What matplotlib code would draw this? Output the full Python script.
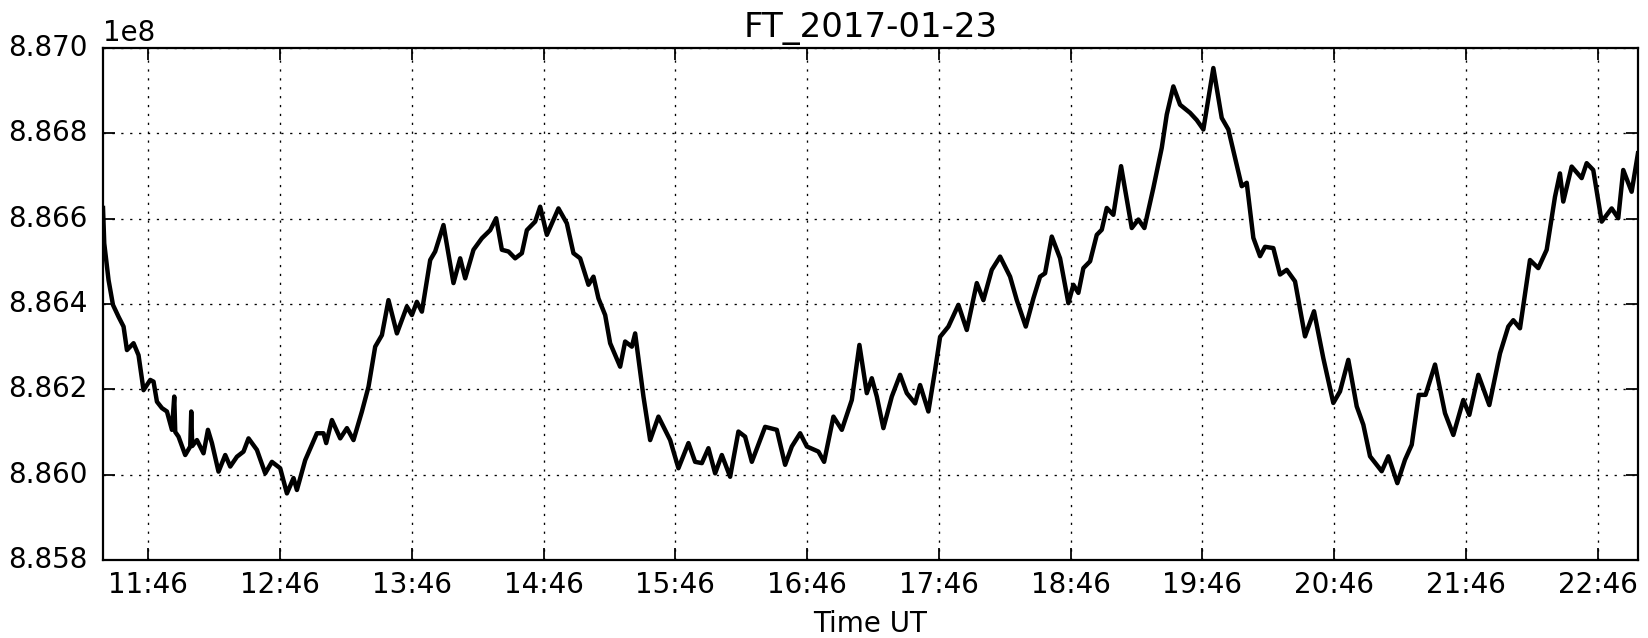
import matplotlib
matplotlib.use("Agg")
import matplotlib.pyplot as plt
from matplotlib.ticker import FixedLocator, FuncFormatter, ScalarFormatter

# time in minutes after midnight (UT), value in units of 1e8
minutes = [685.4, 685.97, 687.93, 689.93, 692.48, 694.76, 696.30, 699.31, 701.58, 703.86,
           706.91, 708.41, 709.96, 712.24, 714.51, 716.79, 717.84, 718.3, 719.79, 722.84,
           725.12, 725.58, 726.03, 728.17, 731.17, 733.18, 735.0, 738.0, 741.05, 743.33,
           746.38, 749.38, 751.66, 755.48, 759.26, 762.31, 766.09, 769.14, 772.15, 773.69,
           777.47, 782.80, 785.8, 787.03, 789.63, 793.41, 796.46, 799.46, 803.29, 806.29,
           809.34, 812.39, 815.39, 819.22, 823.77, 826.05, 828.32, 830.6, 834.38, 836.65,
           840.43, 844.98, 848.03, 850.31, 854.09, 857.91, 861.69, 864.42, 867.02, 870.02,
           873.07, 876.12, 878.40, 882.18, 884.45, 887.50, 892.78, 896.6, 899.61, 902.66,
           906.44, 908.72, 911.0, 914.05, 916.32, 920.87, 923.15, 926.2, 927.70, 931.48,
           934.53, 938.31, 943.64, 947.41, 951.97, 955.0, 958.07, 961.07, 964.12, 967.17,
           970.95, 974.72, 977.77, 980.83, 986.88, 992.21, 995.99, 999.04, 1002.82, 1005.87,
           1011.15, 1013.74, 1017.98, 1021.80, 1026.35, 1029.81, 1033.18, 1035.45, 1037.73, 1040.73,
           1044.56, 1048.34, 1051.39, 1055.17, 1057.45, 1061.22, 1064.27, 1066.55, 1070.33, 1074.88,
           1078.70, 1083.26, 1086.26, 1090.08, 1093.87, 1098.42, 1101.47, 1105.56, 1109.02, 1112.07,
           1114.35, 1117.40, 1121.18, 1124.96, 1127.24, 1129.51, 1131.79, 1134.84, 1137.89, 1140.16,
           1142.44, 1145.44, 1148.95, 1153.82, 1156.83, 1159.56, 1163.66, 1167.48, 1169.76, 1172.76,
           1175.81, 1180.36, 1183.41, 1186.42, 1190.97, 1194.79, 1197.80, 1201.62, 1203.9, 1206.17,
           1209.18, 1212.23, 1214.5, 1218.28, 1221.33, 1224.38, 1228.16, 1232.71, 1236.81, 1241.04,
           1245.59, 1248.64, 1252.43, 1256.25, 1259.26, 1262.31, 1267.63, 1270.64, 1274.74, 1278.25,
           1281.30, 1284.52, 1287.6, 1291.90, 1296.45, 1300.24, 1304.79, 1307.52, 1311.62, 1316.62,
           1321.48, 1325.26, 1327.54, 1330.59, 1335.14, 1338.92, 1342.74, 1346.52, 1348.79, 1350.30,
           1354.12, 1358.67, 1360.95, 1363.95, 1367.78, 1372.33, 1375.33, 1377.61, 1381.43, 1384.3]

values = [8.86625, 8.86542, 8.86456, 8.86398, 8.86370, 8.86347, 8.86292, 8.86308, 8.86280, 8.86198,
          8.86222, 8.86218, 8.86171, 8.86156, 8.86148, 8.86105, 8.86183, 8.86100, 8.86089, 8.86046,
          8.86066, 8.86148, 8.86067, 8.86081, 8.86050, 8.86105, 8.86074, 8.86007, 8.86046, 8.86019,
          8.86042, 8.86054, 8.86085, 8.86058, 8.86003, 8.86030, 8.86015, 8.85956, 8.85992, 8.85964,
          8.86034, 8.86097, 8.86097, 8.86074, 8.86128, 8.86085, 8.86109, 8.86081, 8.86148, 8.86206,
          8.86300, 8.86327, 8.86409, 8.86331, 8.86394, 8.86374, 8.86405, 8.86382, 8.86503, 8.86523,
          8.86585, 8.86449, 8.86507, 8.86460, 8.86527, 8.86554, 8.86573, 8.86601, 8.86527, 8.86523,
          8.86507, 8.86519, 8.86573, 8.86593, 8.86628, 8.86562, 8.86624, 8.86589, 8.86519, 8.86507,
          8.86445, 8.86464, 8.86413, 8.86374, 8.86308, 8.86253, 8.86312, 8.86300, 8.86331, 8.86183,
          8.86081, 8.86136, 8.86081, 8.86015, 8.86074, 8.86030, 8.86027, 8.86062, 8.86003, 8.86046,
          8.85995, 8.86101, 8.86089, 8.86030, 8.86112, 8.86105, 8.86023, 8.86066, 8.86097, 8.86066,
          8.86054, 8.86030, 8.86136, 8.86105, 8.86175, 8.86304, 8.86191, 8.86226, 8.86183, 8.86109,
          8.86183, 8.86234, 8.86191, 8.86167, 8.86210, 8.86148, 8.86245, 8.86323, 8.86347, 8.86398,
          8.86339, 8.86449, 8.86409, 8.86480, 8.86511, 8.86464, 8.86409, 8.86347, 8.86413, 8.86464,
          8.86472, 8.86558, 8.86507, 8.86402, 8.86445, 8.86426, 8.86484, 8.86500, 8.86562, 8.86574,
          8.86625, 8.86609, 8.86723, 8.86578, 8.86598, 8.86578, 8.86672, 8.86766, 8.86844, 8.86910,
          8.86867, 8.86848, 8.86831, 8.86809, 8.86953, 8.86836, 8.86809, 8.86726, 8.86676, 8.86684,
          8.86555, 8.86512, 8.86534, 8.86531, 8.86469, 8.86480, 8.86453, 8.86324, 8.86383, 8.86273,
          8.86168, 8.86195, 8.86269, 8.86160, 8.86117, 8.86043, 8.86008, 8.86043, 8.85980, 8.86035,
          8.86070, 8.86187, 8.86187, 8.86258, 8.86144, 8.86093, 8.86175, 8.86140, 8.86234, 8.86163,
          8.86284, 8.86347, 8.86362, 8.86343, 8.86503, 8.86484, 8.86527, 8.86651, 8.86706, 8.86640,
          8.86722, 8.86695, 8.86730, 8.86714, 8.86593, 8.86624, 8.86601, 8.86714, 8.86663, 8.86753]

tick_minutes = [706, 766, 826, 886, 946, 1006, 1066, 1126, 1186, 1246, 1306, 1366]
y_ticks = [8.858e8, 8.860e8, 8.862e8, 8.864e8, 8.866e8, 8.868e8, 8.870e8]
title = "FT_2017-01-23"
xlabel = "Time UT"

plt.style.use("classic")
plt.rcParams["font.family"] = ["DejaVu Sans"]
plt.rcParams["font.size"] = 12.5

fig = plt.figure(figsize=(10.3, 3.9875), dpi=160, facecolor="white")
ax = fig.add_axes([0.0625, 0.1223, 0.9314, 0.8025])
ax.set_facecolor("white")

yvals = [v * 1e8 for v in values]
ax.plot(minutes, yvals, color="black", linewidth=2.0)

ax.set_xlim(minutes[0], minutes[-1])
ax.set_ylim(y_ticks[0], y_ticks[-1])
ax.xaxis.set_major_locator(FixedLocator(tick_minutes))
ax.xaxis.set_major_formatter(FuncFormatter(lambda m, p: "%d:%02d" % (int(m) // 60, int(round(m)) % 60)))
ax.yaxis.set_major_locator(FixedLocator(y_ticks))
fmt = ScalarFormatter(useOffset=False)
fmt.set_scientific(True)
fmt.set_powerlimits((0, 0))
ax.yaxis.set_major_formatter(fmt)

ax.grid(True, linestyle=":", color="black", linewidth=0.6)
ax.tick_params(direction="in", length=5.4, width=0.8, top=True, right=True, labelsize=12.5)
ax.tick_params(axis="x", pad=5)
ax.tick_params(axis="y", pad=7)
for s in ax.spines.values():
    s.set_linewidth(1.0)

ax.set_title(title, fontsize=15.3)
ax.set_xlabel(xlabel, fontsize=12.5, labelpad=5)

fig.savefig("out.png", dpi=160, facecolor="white")
